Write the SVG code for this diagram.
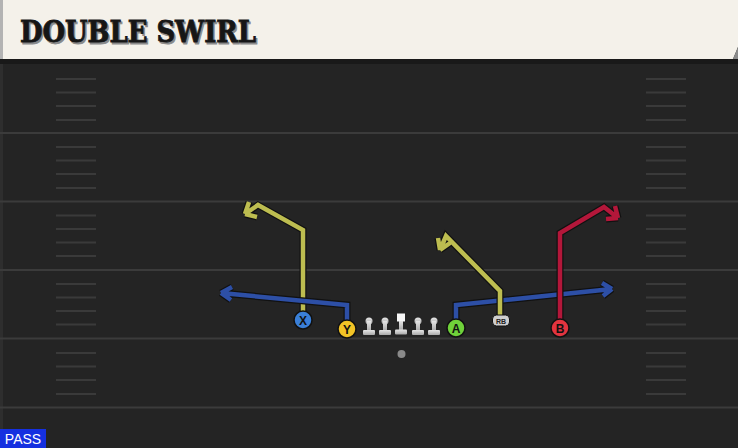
<svg xmlns="http://www.w3.org/2000/svg" width="738" height="448" viewBox="0 0 738 448">
<defs>
<style>
.yard{stroke:#3b3b3b;stroke-width:2}
.hash{stroke:#3a3a3a;stroke-width:2}
.out{fill:none;stroke:#111;stroke-width:7;stroke-linejoin:miter;stroke-linecap:butt}
.rt{fill:none;stroke-width:4.5;stroke-linejoin:miter;stroke-linecap:butt}
.yel{stroke:#bdbd50}
.blu{stroke:#2d4fa6}
.red{stroke:#b3173a}
.lbl{font-family:"Liberation Sans",Arial,sans-serif;font-weight:bold;font-size:12px;fill:#111;text-anchor:middle}
.ttl{font-family:"DejaVu Serif Condensed","DejaVu Serif",serif;font-weight:bold;font-size:29px}
</style>
<linearGradient id="lg" x1="0" y1="0" x2="0" y2="1"><stop offset="0" stop-color="#e6e6e6"/><stop offset="1" stop-color="#a9a9a9"/></linearGradient>
</defs>
<rect x="0" y="0" width="738" height="448" fill="#242424"/>
<rect x="0" y="60" width="3" height="388" fill="#2e2e2e"/>
<rect x="0" y="59" width="738" height="5" fill="#191919"/>
<g id="header">
<path d="M0 0H738V47L733 59H0Z" fill="#f4f1ea"/>
<rect x="0" y="0" width="3" height="59" fill="#b3b3b3"/>
<path d="M733 59L738 47V59Z" fill="#8a8a8a"/>
<text class="ttl" x="21.5" y="43.5" textLength="236" lengthAdjust="spacingAndGlyphs" fill="#8a8a8a" stroke="#8a8a8a" stroke-width="0.8">DOUBLE SWIRL</text>
<text class="ttl" x="20" y="42" textLength="236" lengthAdjust="spacingAndGlyphs" fill="#161616" stroke="#161616" stroke-width="0.8">DOUBLE SWIRL</text>
</g>
<g id="field">
<line class="yard" x1="0" y1="133" x2="738" y2="133"/>
<line class="yard" x1="0" y1="201.5" x2="738" y2="201.5"/>
<line class="yard" x1="0" y1="270" x2="738" y2="270"/>
<line class="yard" x1="0" y1="338.5" x2="738" y2="338.5"/>
<line class="yard" x1="0" y1="407.5" x2="738" y2="407.5"/>
<g class="hash">
<path d="M56 79H96M56 92.5H96M56 106H96M56 120H96M56 147H96M56 160.5H96M56 174H96M56 188H96M56 215.5H96M56 229H96M56 242.5H96M56 256H96M56 284H96M56 297.5H96M56 311H96M56 324.5H96M56 353H96M56 366.5H96M56 380H96M56 394H96"/>
<path d="M646 79H686M646 92.5H686M646 106H686M646 120H686M646 147H686M646 160.5H686M646 174H686M646 188H686M646 215.5H686M646 229H686M646 242.5H686M646 256H686M646 284H686M646 297.5H686M646 311H686M646 324.5H686M646 353H686M646 366.5H686M646 380H686M646 394H686"/>
</g>
</g>
<g id="connectors">
<path class="out" d="M303 312V230L258 205L245 214M245 214L249 202M245 214L257 217"/>
<path class="rt yel" d="M303 312V230L258 205L245 214M245 214L249 202M245 214L257 217"/>
<path class="out" d="M347 321V305L221 293M221 293L232 287M221 293L231 300"/>
<path class="rt blu" d="M347 321V305L221 293M221 293L232 287M221 293L231 300"/>
<path class="out" d="M456 321V305L612 289M612 289L602 283M612 289L603 296"/>
<path class="rt blu" d="M456 321V305L612 289M612 289L602 283M612 289L603 296"/>
<path class="out" d="M500 316V291L446 236L440 250M440 250L438 238M440 250L450 243"/>
<path class="rt yel" d="M500 316V291L446 236L440 250M440 250L438 238M440 250L450 243"/>
<path class="out" d="M560 320V233L604 207L618 218M618 218L615 206M618 218L606 219"/>
<path class="rt red" d="M560 320V233L604 207L618 218M618 218L615 206M618 218L606 219"/>
</g>
<g id="X"><circle cx="303" cy="320" r="9" fill="#3a7fd8" stroke="#111" stroke-width="1.5"/><text class="lbl" x="303" y="324.5">X</text></g>
<g id="Y"><circle cx="347" cy="329" r="9" fill="#f2c326" stroke="#111" stroke-width="1.5"/><text class="lbl" x="347" y="333.5">Y</text></g>
<g id="A"><circle cx="456" cy="328" r="9" fill="#6fd13a" stroke="#111" stroke-width="1.5"/><text class="lbl" x="456" y="332.5">A</text></g>
<g id="B"><circle cx="560" cy="328" r="9" fill="#e2343f" stroke="#111" stroke-width="1.5"/><text class="lbl" x="560" y="332.5">B</text></g>
<g id="RB"><rect x="492.5" y="315" width="17" height="11" rx="4" fill="#cfcfcf" stroke="#111" stroke-width="1"/><text x="501" y="323.5" font-family="'Liberation Sans',Arial,sans-serif" font-weight="bold" font-size="7" fill="#222" text-anchor="middle">RB</text></g>
<g id="LT"><circle cx="369" cy="321" r="3.5" fill="url(#lg)"/><rect x="367" y="321" width="4" height="10" fill="url(#lg)"/><rect x="363" y="330" width="12" height="5" rx="1" fill="url(#lg)"/></g>
<g id="LG"><circle cx="385" cy="321" r="3.5" fill="url(#lg)"/><rect x="383" y="321" width="4" height="10" fill="url(#lg)"/><rect x="379" y="330" width="12" height="5" rx="1" fill="url(#lg)"/></g>
<g id="C"><rect x="397" y="313.5" width="8" height="8" fill="#f7f7f7"/><rect x="399" y="321" width="4" height="9" fill="url(#lg)"/><rect x="395" y="329.5" width="12" height="5" rx="1" fill="url(#lg)"/></g>
<g id="RG"><circle cx="418" cy="321" r="3.5" fill="url(#lg)"/><rect x="416" y="321" width="4" height="10" fill="url(#lg)"/><rect x="412" y="330" width="12" height="5" rx="1" fill="url(#lg)"/></g>
<g id="RT"><circle cx="434" cy="321" r="3.5" fill="url(#lg)"/><rect x="432" y="321" width="4" height="10" fill="url(#lg)"/><rect x="428" y="330" width="12" height="5" rx="1" fill="url(#lg)"/></g>
<g id="ball"><circle cx="401.5" cy="354" r="4" fill="#8a8a8a"/></g>
<g id="pass"><rect x="0" y="429" width="46" height="19" fill="#1530e0"/><text x="23" y="444" font-family="'Liberation Sans',Arial,sans-serif" font-size="14" fill="#fff" text-anchor="middle">PASS</text></g>
</svg>
